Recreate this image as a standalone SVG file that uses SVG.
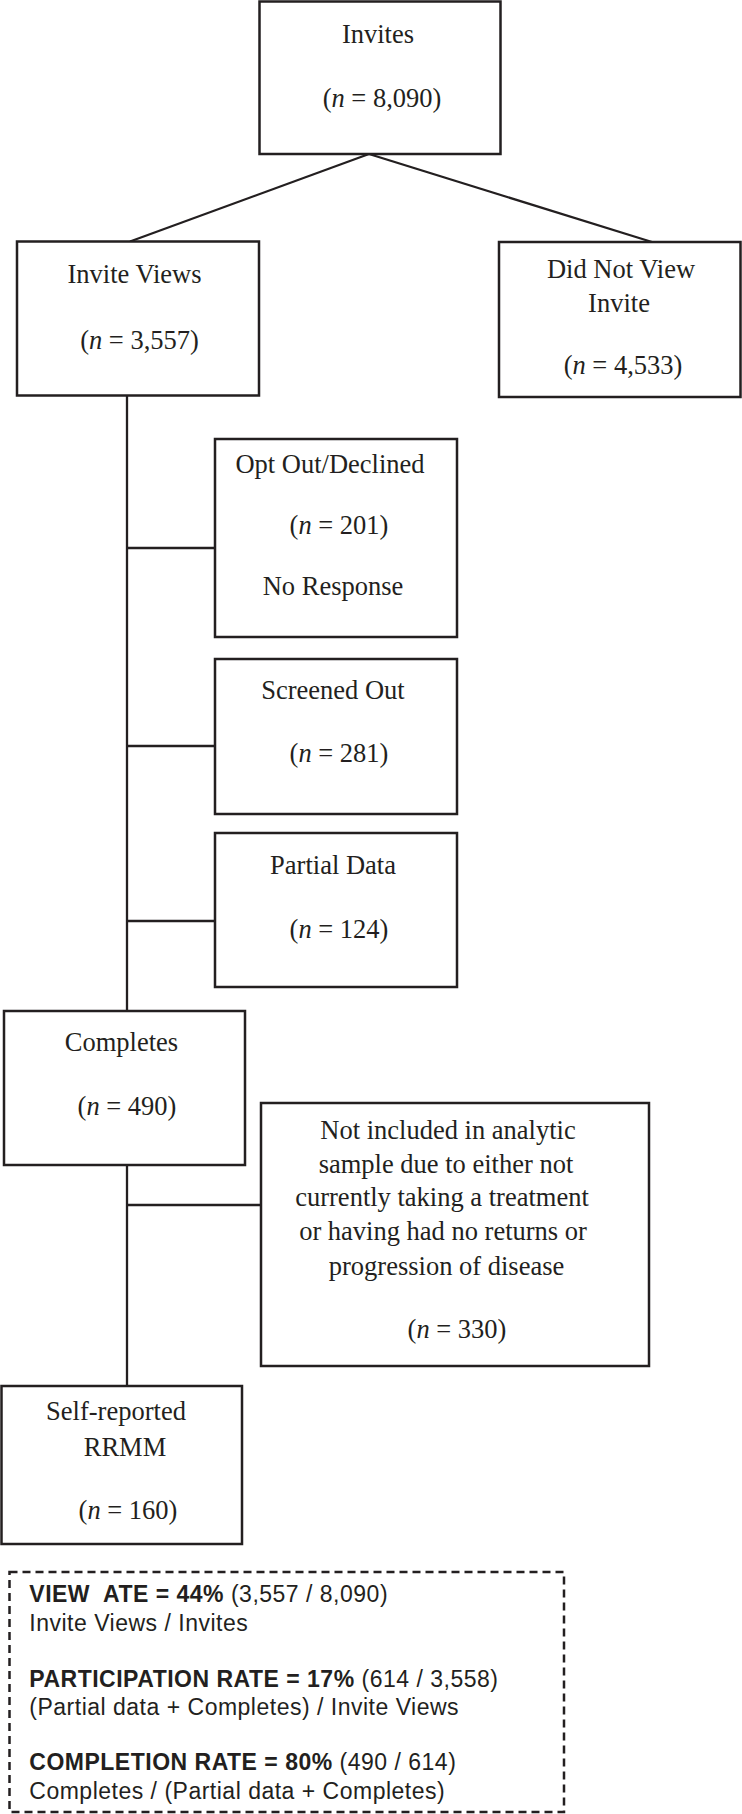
<svg xmlns="http://www.w3.org/2000/svg" width="742" height="1814" viewBox="0 0 742 1814">
<style>
.box{fill:#fff;stroke:#231f20;stroke-width:2.5}
.dash{fill:none;stroke:#231f20;stroke-width:2.5;stroke-dasharray:8 5}
.conn line{stroke:#231f20;stroke-width:2.3}
.t{font-family:"Liberation Serif","Times New Roman",serif;font-size:26.5px;fill:#231f20;text-anchor:middle}
.s{font-family:"Liberation Sans",Arial,sans-serif;font-size:23px;letter-spacing:0.5px;fill:#231f20}
.b{font-weight:bold}
.i{font-style:italic}
</style>
<rect width="742" height="1814" fill="#fff"/>
<g id="connectors" class="conn">
<line x1="369" y1="154" x2="130" y2="241.5"/>
<line x1="369" y1="154" x2="652" y2="242"/>
<line x1="127" y1="395.5" x2="127" y2="1011"/>
<line x1="127" y1="548" x2="215" y2="548"/>
<line x1="127" y1="746" x2="215" y2="746"/>
<line x1="127" y1="921" x2="215" y2="921"/>
<line x1="127" y1="1165" x2="127" y2="1386"/>
<line x1="127" y1="1205" x2="261" y2="1205"/>
</g>
<g id="invites">
<rect class="box" x="259.5" y="1.5" width="241" height="152.5"/>
<text class="t" x="378" y="43">Invites</text>
<text class="t" x="382" y="107">(<tspan class="i">n</tspan> = 8,090)</text>
</g>
<g id="invite-views">
<rect class="box" x="17" y="241.5" width="242" height="154"/>
<text class="t" x="134.5" y="283">Invite Views</text>
<text class="t" x="139.5" y="349">(<tspan class="i">n</tspan> = 3,557)</text>
</g>
<g id="did-not-view">
<rect class="box" x="499" y="242" width="241.5" height="155"/>
<text class="t" x="621" y="278">Did Not View</text>
<text class="t" x="619" y="312">Invite</text>
<text class="t" x="623" y="374">(<tspan class="i">n</tspan> = 4,533)</text>
</g>
<g id="opt-out">
<rect class="box" x="215" y="439" width="242" height="198"/>
<text class="t" x="330" y="473">Opt Out/Declined</text>
<text class="t" x="339" y="534">(<tspan class="i">n</tspan> = 201)</text>
<text class="t" x="333" y="595">No Response</text>
</g>
<g id="screened-out">
<rect class="box" x="215" y="659" width="242" height="155"/>
<text class="t" x="333" y="699">Screened Out</text>
<text class="t" x="339" y="762">(<tspan class="i">n</tspan> = 281)</text>
</g>
<g id="partial-data">
<rect class="box" x="215" y="833" width="242" height="154"/>
<text class="t" x="333" y="874">Partial Data</text>
<text class="t" x="339" y="938">(<tspan class="i">n</tspan> = 124)</text>
</g>
<g id="completes">
<rect class="box" x="4" y="1011" width="241" height="154"/>
<text class="t" x="121.5" y="1051">Completes</text>
<text class="t" x="127" y="1114.5">(<tspan class="i">n</tspan> = 490)</text>
</g>
<g id="not-included">
<rect class="box" x="261" y="1103" width="388" height="263"/>
<text class="t" x="448" y="1139">Not included in analytic</text>
<text class="t" x="446" y="1173">sample due to either not</text>
<text class="t" x="442" y="1206">currently taking a treatment</text>
<text class="t" x="443" y="1240">or having had no returns or</text>
<text class="t" x="446.5" y="1275">progression of disease</text>
<text class="t" x="457" y="1338">(<tspan class="i">n</tspan> = 330)</text>
</g>
<g id="self-reported">
<rect class="box" x="1.5" y="1386" width="240.5" height="158"/>
<text class="t" x="116" y="1419.5">Self-reported</text>
<text class="t" x="125" y="1456">RRMM</text>
<text class="t" x="128" y="1519">(<tspan class="i">n</tspan> = 160)</text>
</g>
<g id="rates">
<rect class="dash" x="9.5" y="1572" width="554.5" height="240"/>
<text class="s" x="29.3" y="1601.7"><tspan class="b">VIEW&#160; ATE = 44%</tspan> (3,557 / 8,090)</text>
<text class="s" x="29.3" y="1631">Invite Views / Invites</text>
<text class="s" x="29.3" y="1687"><tspan class="b">PARTICIPATION RATE = 17%</tspan> (614 / 3,558)</text>
<text class="s" x="29.3" y="1714.5">(Partial data + Completes) / Invite Views</text>
<text class="s" x="29.3" y="1769.5"><tspan class="b">COMPLETION RATE = 80%</tspan> (490 / 614)</text>
<text class="s" x="29.3" y="1798.5">Completes / (Partial data + Completes)</text>
</g>
</svg>
